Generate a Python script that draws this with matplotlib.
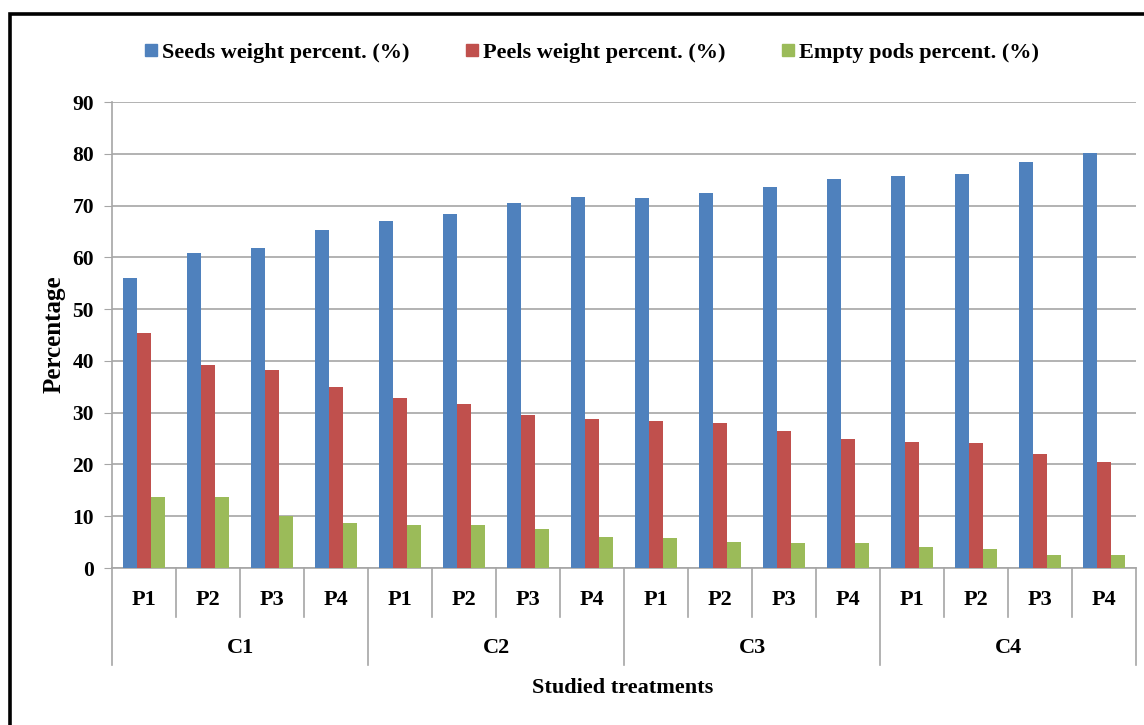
import matplotlib.pyplot as plt
from matplotlib.lines import Line2D
from matplotlib.patches import Rectangle
import numpy as np

# data
groups = ["C1", "C2", "C3", "C4"]
subs = ["P1", "P2", "P3", "P4"]
seeds = [56.0, 60.9, 61.8, 65.3, 67.0, 68.3, 70.4, 71.6,
         71.5, 72.5, 73.6, 75.1, 75.7, 76.1, 78.4, 80.2]
peels = [45.4, 39.3, 38.2, 35.0, 32.9, 31.7, 29.5, 28.7,
         28.4, 28.1, 26.5, 25.0, 24.4, 24.1, 22.1, 20.4]
empty = [13.8, 13.8, 10.0, 8.6, 8.4, 8.4, 7.5, 6.0,
         5.7, 5.1, 4.8, 4.8, 4.1, 3.7, 2.5, 2.5]
series_names = ["Seeds weight percent. (%)", "Peels weight percent. (%)",
                "Empty pods percent. (%)"]
colors = ["#4F81BD", "#C0504D", "#9BBB59"]
yticks = list(range(0, 91, 10))

plt.rcParams['font.family'] = ['Liberation Serif', 'DejaVu Serif']
plt.rcParams['font.weight'] = 'bold'
fs = 15.5

fig = plt.figure(figsize=(11.44, 7.25), dpi=100)
ax = fig.add_axes([112 / 1144, 1 - 568 / 725, 1024 / 1144, 466 / 725])

n = len(seeds)
x = np.arange(n)
w = 0.22
for i, (vals, c) in enumerate(zip([seeds, peels, empty], colors)):
    ax.bar(x + (i - 1) * w, vals, w, color=c, zorder=3)

ax.set_xlim(-0.5, n - 0.5)
ax.set_ylim(0, 90)
ax.set_yticks(yticks)
ax.yaxis.grid(True, color="#a6a6a6", lw=1.2, zorder=0)
ax.tick_params(axis='y', length=6, color="#a6a6a6", labelsize=fs, pad=7)
ax.set_xticks([])
for s in ["top", "right"]:
    ax.spines[s].set_visible(False)
for s in ["left", "bottom"]:
    ax.spines[s].set_color("#a6a6a6")
    ax.spines[s].set_linewidth(1.2)
for lab in ax.get_yticklabels():
    lab.set_fontweight('bold')

# hierarchical category axis
trans = ax.get_xaxis_transform()
for k in range(n + 1):
    bottom = -0.208 if k % len(subs) == 0 else -0.105
    ax.plot([k - 0.5, k - 0.5], [0, bottom], color="#a6a6a6", lw=1.2,
            transform=trans, clip_on=False)
for k in range(n):
    ax.text(k, -0.069, subs[k % len(subs)], transform=trans, ha='center',
            va='center', fontsize=fs + 0.5, fontweight='bold')
for g, name in enumerate(groups):
    cx = g * len(subs) + (len(subs) - 1) / 2
    ax.text(cx, -0.172, name, transform=trans, ha='center', va='center',
            fontsize=fs + 0.5, fontweight='bold')

fig.text(623 / 1144, 1 - 688 / 725, "Studied treatments", ha='center',
         va='center', fontsize=fs + 0.5, fontweight='bold')
fig.text(54 / 1144, 1 - 334 / 725, "Percentage", ha='center', va='center',
         rotation=90, fontsize=18, fontweight='bold')

handles = [Line2D([], [], marker='s', ls='', color=c, markersize=8)
           for c in colors]
fig.legend(handles, series_names, loc='center', ncol=3,
           bbox_to_anchor=(0.516, 1 - 53 / 725), frameon=False,
           prop={'size': 16, 'weight': 'bold'}, handletextpad=0.1,
           columnspacing=2.4, handlelength=0.8)

# outer frame of the cropped screenshot
fig.patches.append(Rectangle((10 / 1144, -0.1), 1.2, 1.1 - 14 / 725,
                             transform=fig.transFigure, fill=False,
                             edgecolor='black', lw=2.6))

fig.savefig("out.png", dpi=100)
